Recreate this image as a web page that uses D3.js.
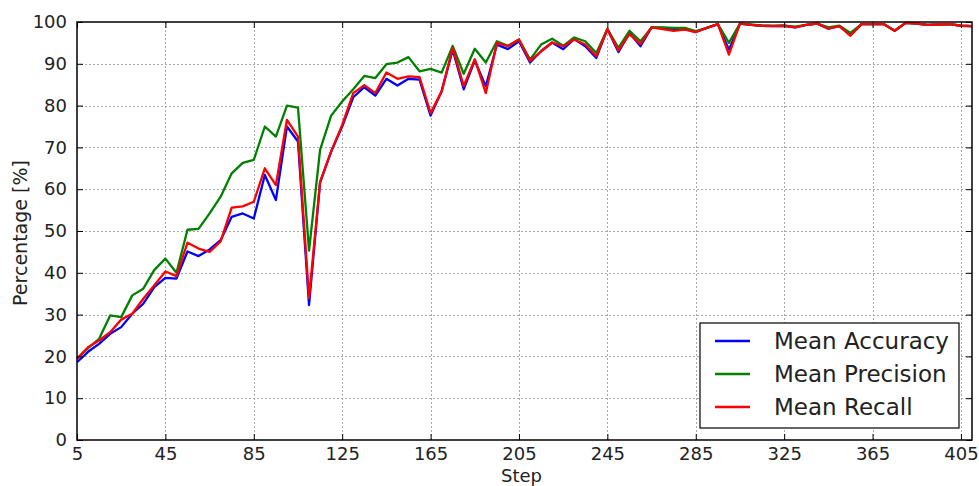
<!DOCTYPE html>
<html>
<head>
<meta charset="utf-8">
<script src="https://cdn.jsdelivr.net/npm/d3@7"></script>
<style>
  html, body { margin: 0; padding: 0; background: #fff; }
  svg { display: block; font-family: "DejaVu Sans", sans-serif; }
</style>
</head>
<body>
<svg id="chart" width="979" height="486"></svg>
<script>
// Training steps (every 5 steps)
const steps = d3.range(5, 411, 5);

const meanAccuracy = [
  18.6, 21.1, 23.0, 25.4, 27.0, 30.2, 32.6, 36.6, 38.8, 38.6,
  45.1, 44.0, 45.6, 47.8, 53.4, 54.2, 53.0, 63.4, 57.4, 75.0,
  71.4, 32.3, 61.6, 69.0, 75.0, 82.0, 84.4, 82.4, 86.4, 84.8,
  86.4, 86.2, 77.6, 83.4, 93.4, 83.9, 90.8, 84.6, 94.6, 93.5,
  95.4, 90.3, 93.0, 95.1, 93.5, 95.9, 94.2, 91.4, 98.3, 92.8,
  97.4, 94.2, 98.7, 98.6, 98.2, 98.4, 97.6, 98.6, 99.5, 93.4,
  99.6, 99.3, 99.1, 99.0, 99.1, 98.7, 99.3, 99.6, 98.4, 99.0,
  96.9, 99.5, 99.5, 99.5, 97.9, 99.8, 99.6, 99.3, 99.4, 99.5,
  99.1, 99.0
];

const meanPrecision = [
  19.5, 22.0, 24.2, 29.8, 29.4, 34.6, 36.2, 40.7, 43.4, 40.0,
  50.3, 50.5, 54.2, 58.2, 63.8, 66.3, 67.0, 75.0, 72.6, 80.0,
  79.5, 45.3, 69.4, 77.6, 81.0, 83.9, 87.1, 86.6, 89.9, 90.3,
  91.6, 88.2, 88.8, 87.9, 94.3, 87.6, 93.6, 90.3, 95.4, 94.3,
  95.8, 91.0, 94.6, 96.0, 94.3, 96.3, 95.4, 92.6, 98.3, 93.8,
  97.9, 95.4, 98.7, 98.7, 98.6, 98.6, 97.8, 98.6, 99.5, 95.0,
  99.6, 99.4, 99.1, 99.1, 99.1, 98.9, 99.3, 99.6, 98.7, 99.1,
  97.4, 99.5, 99.5, 99.5, 97.9, 99.8, 99.6, 99.3, 99.4, 99.5,
  99.1, 99.0
];

const meanRecall = [
  19.4, 22.2, 23.8, 25.8, 28.8, 30.2, 33.8, 37.0, 40.3, 39.2,
  47.2, 45.8, 45.0, 47.5, 55.6, 55.9, 57.0, 65.0, 61.0, 76.6,
  72.6, 34.0, 61.8, 69.0, 75.4, 83.0, 84.9, 83.0, 87.9, 86.4,
  87.0, 86.8, 78.2, 83.4, 93.8, 84.7, 91.1, 83.0, 95.0, 94.2,
  95.8, 90.7, 93.0, 95.1, 94.2, 95.8, 94.6, 91.8, 98.3, 93.2,
  97.1, 94.7, 98.7, 98.3, 97.9, 98.2, 97.6, 98.6, 99.5, 92.2,
  99.6, 99.3, 99.1, 99.0, 99.1, 98.7, 99.3, 99.6, 98.4, 99.0,
  96.7, 99.5, 99.5, 99.5, 97.9, 99.8, 99.6, 99.3, 99.4, 99.5,
  99.1, 99.0
];

const xTicks = d3.range(5, 406, 40);
const yTicks = d3.range(0, 101, 10);

const series = [
  { name: "Mean Accuracy", values: meanAccuracy, color: "#0000ff" },
  { name: "Mean Precision", values: meanPrecision, color: "#008000" },
  { name: "Mean Recall", values: meanRecall, color: "#ff0000" }
];

const margin = { left: 77, right: 7, top: 22, bottom: 46 };
const W = 979, H = 486;
const svg = d3.select("#chart");

const x = d3.scaleLinear().domain([5, 410]).range([margin.left, W - margin.right]);
const y = d3.scaleLinear().domain([0, 100]).range([H - margin.bottom, margin.top]);

const x0 = x.range()[0], x1 = x.range()[1];
const y0 = y.range()[0], y1 = y.range()[1];

// dotted grid
const grid = svg.append("g").attr("stroke", "#a8a8a8").attr("stroke-width", 1)
  .attr("stroke-dasharray", "2,2");
grid.selectAll(".gx").data(xTicks.filter(t => t > 5)).join("line")
  .attr("x1", d => Math.round(x(d)) + 0.5).attr("x2", d => Math.round(x(d)) + 0.5)
  .attr("y1", y1).attr("y2", y0);
grid.selectAll(".gy").data(yTicks.filter(t => t > 0 && t < 100)).join("line")
  .attr("y1", d => Math.round(y(d)) + 0.5).attr("y2", d => Math.round(y(d)) + 0.5)
  .attr("x1", x0).attr("x2", x1);

// data lines
const line = d3.line()
  .x((d, i) => x(steps[i]))
  .y(d => y(d));

const plot = svg.append("g");
plot.selectAll("path").data(series).join("path")
  .attr("fill", "none")
  .attr("stroke", d => d.color)
  .attr("stroke-width", 2.3)
  .attr("stroke-linejoin", "round")
  .attr("d", d => line(d.values));

// axes: ticks pointing inward on all four sides
const tickLen = 6;
const axBottom = svg.append("g").attr("transform", `translate(0,${y0})`)
  .call(d3.axisBottom(x).tickValues(xTicks).tickSize(-tickLen).tickPadding(6));
const axTop = svg.append("g").attr("transform", `translate(0,${y1})`)
  .call(d3.axisTop(x).tickValues(xTicks).tickSize(-tickLen).tickFormat(""));
const axLeft = svg.append("g").attr("transform", `translate(${x0},0)`)
  .call(d3.axisLeft(y).tickValues(yTicks).tickSize(-tickLen).tickPadding(10));
const axRight = svg.append("g").attr("transform", `translate(${x1},0)`)
  .call(d3.axisRight(y).tickValues(yTicks).tickSize(-tickLen).tickFormat(""));

[axBottom, axTop, axLeft, axRight].forEach(g => {
  g.select(".domain").remove();
  g.selectAll(".tick line").attr("stroke", "#000").attr("stroke-width", 1);
  g.selectAll("text").attr("font-size", 18).attr("fill", "#222")
    .attr("font-family", "DejaVu Sans, sans-serif");
});
axBottom.selectAll("text").attr("dy", "0.75em");

// frame
svg.append("rect")
  .attr("x", x0).attr("y", y1)
  .attr("width", x1 - x0).attr("height", y0 - y1)
  .attr("fill", "none").attr("stroke", "#000").attr("stroke-width", 1.5);

// axis titles
svg.append("text")
  .attr("x", (x0 + x1) / 2 - 3).attr("y", 482)
  .attr("text-anchor", "middle").attr("font-size", 18).attr("fill", "#222")
  .text("Step");
svg.append("text")
  .attr("transform", `translate(27,${(y0 + y1) / 2 + 2}) rotate(-90)`)
  .attr("text-anchor", "middle").attr("font-size", 19).attr("fill", "#222")
  .text("Percentage [%]");

// legend
const legend = svg.append("g").attr("transform", "translate(700,323)");
legend.append("rect")
  .attr("width", 259).attr("height", 105)
  .attr("fill", "#fff").attr("stroke", "#000").attr("stroke-width", 1.2);
const rows = legend.selectAll(".row").data(series).join("g")
  .attr("transform", (d, i) => `translate(0,${18 + i * 33})`);
rows.append("line")
  .attr("x1", 15).attr("x2", 50).attr("y1", 0).attr("y2", 0)
  .attr("stroke", d => d.color).attr("stroke-width", 2.5);
rows.append("text")
  .attr("x", 74).attr("y", 0).attr("dy", "0.36em")
  .attr("font-size", 23).attr("fill", "#222")
  .text(d => d.name);
</script>
</body>
</html>
